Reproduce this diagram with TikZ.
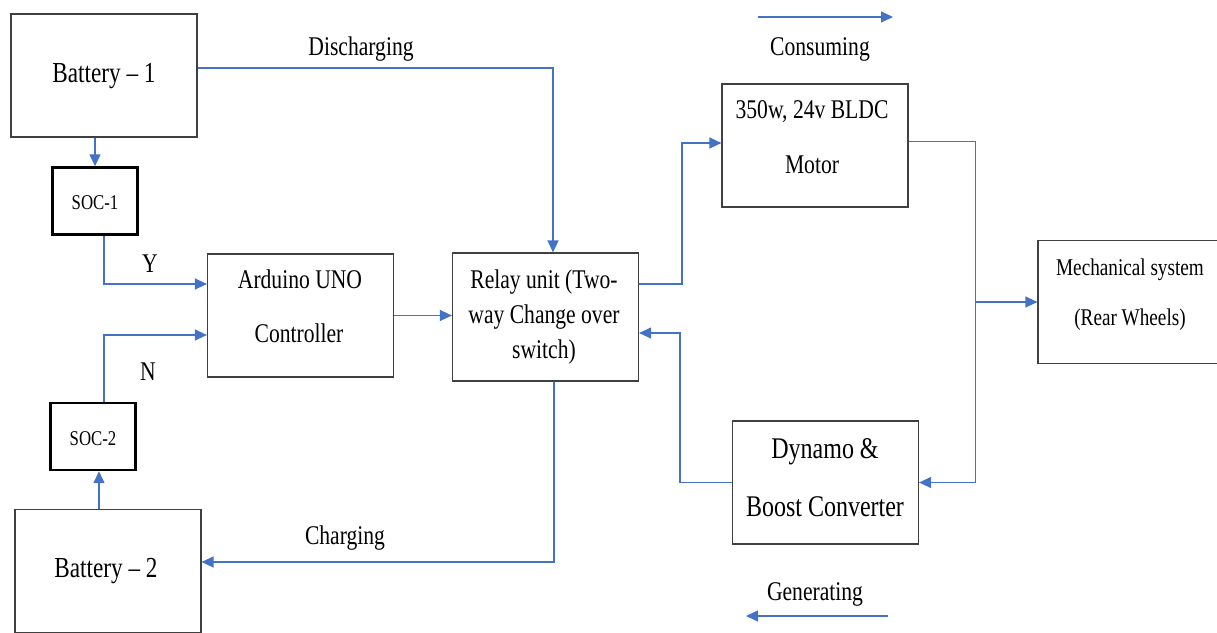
\documentclass[tikz,border=0pt]{standalone}
\usepackage{fontspec}
\setmainfont{Liberation Serif}[FakeStretch=0.8]
\usetikzlibrary{arrows.meta}
\definecolor{flowblue}{RGB}{68,114,196}
\definecolor{boxgray}{RGB}{64,64,64}
\tikzset{
  blk/.style={draw=boxgray,line width=1.2pt,minimum width=186pt,minimum height=123pt,inner sep=0pt},
  soc/.style={draw=black,line width=2.4pt,minimum width=85pt,minimum height=67pt,inner sep=0pt},
  flow/.style={flowblue,line width=1.3pt,-{Triangle[length=12pt,width=11pt]}},
  txt/.style={font=\fontsize{27}{32}\selectfont,anchor=base,inner sep=0pt},
  big/.style={font=\fontsize{29}{34}\selectfont},
  small/.style={font=\fontsize{21}{25}\selectfont},
  mid/.style={font=\fontsize{24}{29}\selectfont},
  large/.style={font=\fontsize{30}{36}\selectfont}
}

\begin{document}
\begin{tikzpicture}[x=1pt,y=-1pt]
  \useasboundingbox (0,0) rectangle (1217,632);

  % Batteries, state-of-charge blocks and controller
  \node[blk] (bat1) at (104,75.5) {};
  \node[soc] (soc1) at (95,201) {};
  \node[blk] (ard) at (300.5,315.5) {};
  \node[soc] (soc2) at (93,436.5) {};
  \node[blk] (bat2) at (108,571) {};
  \node[txt,big] (bat1txt) at (104,82) {Battery – 1};
  \node[txt,small] (soc1txt) at (95,209) {SOC-1};
  \node[txt] (ylbl) at (150,272) {Y};
  \node[txt] (ardA) at (300,288) {Arduino UNO};
  \node[txt] (ardB) at (299,342) {Controller};
  \node[txt] (nlbl) at (148,380) {N};
  \node[txt,small] (soc2txt) at (93,445) {SOC-2};
  \node[txt,big] (bat2txt) at (106,577) {Battery – 2};

  % Relay, motor, wheels and generator side
  \node[blk,minimum height=128pt] (relay) at (545.5,317) {};
  \node[blk] (motor) at (815,145.5) {};
  \node[blk] (mech) at (1131,302) {};
  \node[blk] (dyn) at (825.5,482.5) {};
  \node[txt] (relayA) at (544,288) {Relay unit (Two-};
  \node[txt] (relayB) at (544,323) {way Change over};
  \node[txt] (relayC) at (544,358) {switch)};
  \node[txt] (motorA) at (812,118) {350w, 24v BLDC};
  \node[txt] (motorB) at (812,173) {Motor};
  \node[txt,mid] (mechA) at (1130,275) {Mechanical system};
  \node[txt,mid] (mechB) at (1130,325) {(Rear Wheels)};
  \node[txt,large] (dynA) at (825,458) {Dynamo \&};
  \node[txt,large] (dynB) at (825,516) {Boost Converter};

  % Flow labels
  \node[txt] (dischlbl) at (361,55) {Discharging};
  \node[txt] (chglbl) at (345,544) {Charging};
  \node[txt] (consumlbl) at (820,55) {Consuming};
  \node[txt] (genlbl) at (815,600) {Generating};

  % Connections
  \draw[flow] (soc1.north |- bat1.south) -- (soc1.north);
  \draw[flow] ([xshift=9pt]soc1.south) |- ([yshift=31.5pt]ard.west);
  \draw[flow] ([xshift=11pt]soc2.north) |- ([yshift=-19.5pt]ard.west);
  \draw[flow] ([xshift=6pt]soc2.south |- bat2.north) -- ([xshift=6pt]soc2.south);
  \draw[flow] (ard.east) -- (ard.east -| relay.west);
  \draw[flow] ([yshift=7.5pt]bat1.east) -| ([xshift=7.5pt]relay.north);
  \draw[flow] ([xshift=8.5pt]relay.south) |- ([yshift=9pt]bat2.east);
  \draw[flow] ([yshift=33pt]relay.east) -- ++(43pt,0) |- ([yshift=2.5pt]motor.west);
  \draw[flow] ([yshift=4pt]motor.east) -- ++(67pt,0) coordinate (jn0) |- (dyn.east);
  \coordinate (jn) at (jn0 |- mech.west);
  \draw[flow] (jn) -- (mech.west);
  \draw[flow] (dyn.west) -- ++(-52pt,0) |- ([yshift=-16pt]relay.east);

  % Direction legend
  \coordinate (consA) at (758,17);
  \coordinate (consB) at (893,17);
  \draw[flow] (consA) -- (consB);
  \coordinate (genA) at (888,616);
  \coordinate (genB) at (746,616);
  \draw[flow] (genA) -- (genB);
\end{tikzpicture}
\end{document}
